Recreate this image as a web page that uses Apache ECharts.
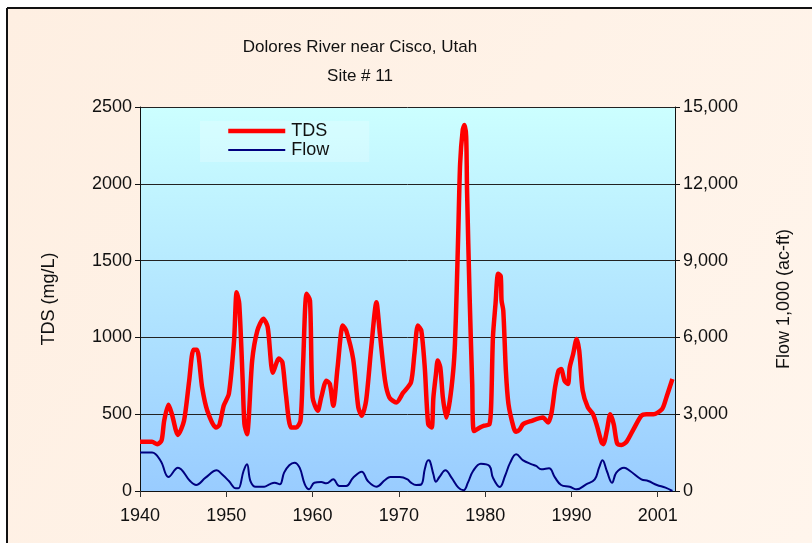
<!DOCTYPE html>
<html>
<head>
<meta charset="utf-8">
<script src="https://cdn.jsdelivr.net/npm/echarts@6/dist/echarts.min.js"></script>
<style>
  html, body { margin: 0; padding: 0; background: #fff; }
  #chart { width: 812px; height: 543px; }
</style>
</head>
<body>
<div id="chart"></div>
<script>
// TDS (mg/L)
var tdsYears = [1940, 1941.4, 1942, 1942.5, 1942.8, 1943.3, 1943.7, 1944.4, 1945.1, 1945.7,
  1946.2, 1946.6, 1947.2, 1947.8, 1948.8, 1949.2, 1949.7, 1950.3, 1950.9, 1951.2,
  1951.5, 1951.9, 1952.1, 1952.4, 1953, 1953.6, 1954.3, 1954.8, 1955.4, 1956.1,
  1956.5, 1956.9, 1957.5, 1958.1, 1958.6, 1958.9, 1959.3, 1959.7, 1960, 1960.6,
  1961, 1961.6, 1962, 1962.4, 1962.9, 1963.5, 1963.9, 1964.7, 1965.3, 1965.7,
  1966.2, 1966.8, 1967.4, 1967.8, 1968.4, 1968.9, 1969.7, 1970.5, 1971.4, 1971.8,
  1972.2, 1972.6, 1973, 1973.4, 1973.8, 1974, 1974.3, 1974.5, 1974.8, 1975.1,
  1975.5, 1975.9, 1976.3, 1976.5, 1976.7, 1976.9, 1977.1, 1977.4, 1977.6, 1977.8,
  1977.9, 1978.2, 1978.5, 1978.7, 1979.4, 1979.9, 1980.5, 1980.7, 1980.9, 1981.2,
  1981.5, 1981.8, 1981.9, 1982.1, 1982.4, 1982.7, 1983.3, 1983.6, 1984, 1984.4,
  1985.4, 1986.7, 1987.3, 1987.7, 1988.1, 1988.5, 1988.8, 1989.2, 1989.6, 1989.8,
  1990.2, 1990.6, 1990.9, 1991.3, 1991.9, 1992.5, 1992.9, 1993.5, 1993.7, 1994.1,
  1994.5, 1994.9, 1995.3, 1995.8, 1996.4, 1997.2, 1998.1, 1998.7, 1999.5, 2000.5,
  2001, 2001.7];
var tdsValues = [320, 320, 305, 330, 457, 561, 500, 365, 457, 718,
  920, 920, 674, 522, 413, 430, 555, 633, 979, 1294,
  1220, 718, 437, 370, 849, 1044, 1122, 1066, 770, 862,
  838, 633, 413, 413, 457, 827, 1284, 1240, 609, 522,
  609, 718, 697, 555, 805, 1077, 1044, 860, 544, 490,
  587, 935, 1229, 1023, 718, 609, 576, 640, 707, 892,
  1077, 1044, 805, 435, 413, 609, 762, 849, 805, 609,
  478, 587, 783, 960, 1305, 1719, 2132, 2350, 2382, 2306,
  1958, 1262, 696, 390, 413, 425, 435, 566, 1000, 1218,
  1414, 1400, 1240, 1175, 783, 566, 413, 385, 400, 435,
  457, 478, 446, 511, 674, 783, 794, 718, 697, 805,
  892, 990, 914, 653, 544, 500, 435, 315, 305, 392,
  500, 435, 309, 300, 322, 403, 490, 500, 500, 533,
  609, 729];

// Flow, 1,000 ac-ft
var flowYears = [1940, 1941.4, 1942.4, 1943.3, 1944.4, 1945.8, 1946.5, 1947.6, 1948.9, 1949.5,
  1950.3, 1951.1, 1951.4, 1952, 1952.4, 1952.8, 1953.4, 1954.4, 1955, 1955.6,
  1956.2, 1956.7, 1957.3, 1957.9, 1958.5, 1959.1, 1959.6, 1960.2, 1961, 1961.6,
  1962.4, 1963.1, 1963.9, 1964.7, 1965.7, 1966.4, 1967.4, 1968.4, 1969, 1970.1,
  1971, 1971.4, 1972, 1972.6, 1973, 1973.4, 1973.6, 1974, 1974.3, 1974.7,
  1975.4, 1976.1, 1976.9, 1977.5, 1978, 1978.6, 1979.5, 1980.5, 1980.9, 1981.7,
  1982.3, 1982.9, 1983.6, 1984.4, 1985.4, 1985.9, 1986.5, 1987.4, 1988.1, 1988.8,
  1989.8, 1990.6, 1991.7, 1992.7, 1993.2, 1993.6, 1994.1, 1994.7, 1995.2, 1996.1,
  1996.8, 1998.1, 1998.9, 1999.9, 2000.9, 2001.7];
var flowValues = [1500, 1500, 1170, 547, 911, 390, 234, 521, 807, 651,
  390, 104, 104, 781, 1042, 390, 168, 168, 260, 325,
  260, 716, 1003, 1107, 911, 260, 65, 325, 350, 300,
  456, 195, 195, 521, 755, 390, 168, 430, 547, 547,
  456, 325, 234, 260, 846, 1198, 1170, 651, 365, 547,
  807, 521, 130, 27, 325, 781, 1068, 977, 521, 156,
  586, 1107, 1432, 1198, 1042, 977, 846, 885, 521, 234,
  168, 65, 260, 456, 911, 1198, 781, 325, 716, 911,
  781, 456, 390, 234, 130, 0];

var decadeTicks = [1940, 1950, 1960, 1970, 1980, 1990, 2000];
var decadeLabels = ['1940', '1950', '1960', '1970', '1980', '1990', '2001'];

function pairs(xs, ys) {
  return xs.map(function (x, i) { return [x, ys[i]]; });
}

var chart = echarts.init(document.getElementById('chart'));
var font = 'Liberation Sans, Arial, sans-serif';

var option = {
  backgroundColor: '#fff',
  animation: false,
  textStyle: { fontFamily: font },
  graphic: [
    {
      type: 'rect', z: -10, silent: true,
      shape: { x: 7, y: 8, width: 805, height: 535 },
      style: {
        fill: new echarts.graphic.LinearGradient(0, 0, 1, 1, [
          { offset: 0, color: '#FEEFE2' },
          { offset: 1, color: '#FFF5EC' }
        ])
      }
    },
    { type: 'line', silent: true, shape: { x1: 7, y1: 8, x2: 812, y2: 8 }, style: { stroke: '#111', lineWidth: 2 } },
    { type: 'line', silent: true, shape: { x1: 7, y1: 8, x2: 7, y2: 543 }, style: { stroke: '#111', lineWidth: 2 } },
    {
      type: 'text', silent: true, x: 360, y: 47,
      style: { text: 'Dolores River near Cisco, Utah', font: '17px ' + font, fill: '#111', align: 'center', verticalAlign: 'middle' }
    },
    {
      type: 'text', silent: true, x: 360, y: 76,
      style: { text: 'Site # 11', font: '17px ' + font, fill: '#111', align: 'center', verticalAlign: 'middle' }
    }
  ],
  grid: {
    left: 140, right: 137, top: 107, bottom: 52,
    show: true,
    borderWidth: 0,
    backgroundColor: new echarts.graphic.LinearGradient(0, 0, 0, 1, [
      { offset: 0, color: '#CCFFFF' },
      { offset: 1, color: '#99CCFF' }
    ])
  },
  legend: {
    orient: 'vertical',
    left: 200, top: 121,
    padding: [1, 40, 3, 26],
    itemGap: 1,
    itemWidth: 57, itemHeight: 14,
    itemStyle: { opacity: 0 },
    backgroundColor: 'rgba(255,255,255,0.22)',
    textStyle: { fontSize: 18, color: '#111', fontFamily: font, padding: [0, 0, 0, 1] },
    data: [
      { name: 'TDS', lineStyle: { width: 4.5 } },
      { name: 'Flow', lineStyle: { width: 2 } }
    ]
  },
  xAxis: {
    type: 'value',
    min: 1940, max: 2002, interval: 10,
    axisLine: { show: true, lineStyle: { color: '#111', width: 1 } },
    axisTick: { show: true, length: 6, lineStyle: { color: '#333' } },
    axisLabel: {
      fontSize: 18, color: '#111', margin: 16, showMaxLabel: false,
      formatter: function (v) {
        var i = decadeTicks.indexOf(v);
        return i >= 0 ? decadeLabels[i] : '';
      }
    },
    splitLine: { show: false }
  },
  yAxis: [
    {
      type: 'value', min: 0, max: 2500, interval: 500, position: 'left',
      name: 'TDS (mg/L)', nameLocation: 'middle', nameRotate: 90, nameGap: 82,
      nameTextStyle: { fontSize: 18, color: '#111' },
      axisLine: { show: true, lineStyle: { color: '#111' } },
      axisTick: { show: true, length: 5, lineStyle: { color: '#111' } },
      axisLabel: { fontSize: 18, color: '#111', margin: 8, formatter: function (v) { return String(v); } },
      splitLine: { show: true, lineStyle: { color: '#222', width: 1 } }
    },
    {
      type: 'value', min: 0, max: 15000, interval: 3000, position: 'right',
      name: 'Flow 1,000 (ac-ft)', nameLocation: 'middle', nameRotate: 90, nameGap: 100,
      nameTextStyle: { fontSize: 18, color: '#111' },
      axisLine: { show: true, lineStyle: { color: '#111' } },
      axisTick: { show: true, length: 5, lineStyle: { color: '#111' } },
      axisLabel: {
        fontSize: 18, color: '#111', margin: 8,
        formatter: function (v) { return v.toLocaleString('en-US'); }
      },
      splitLine: { show: false }
    }
  ],
  series: [
    {
      name: 'TDS', type: 'line', yAxisIndex: 0,
      data: pairs(tdsYears, tdsValues),
      smooth: 0.25, symbol: 'none',
      lineStyle: { color: '#FF0000', width: 4.5 },
      itemStyle: { color: '#FF0000' },
      z: 3
    },
    {
      name: 'Flow', type: 'line', yAxisIndex: 1,
      data: pairs(flowYears, flowValues),
      smooth: 0.4, symbol: 'none',
      lineStyle: { color: '#000080', width: 2 },
      itemStyle: { color: '#000080' },
      z: 2
    }
  ]
};

chart.setOption(option);
</script>
</body>
</html>
